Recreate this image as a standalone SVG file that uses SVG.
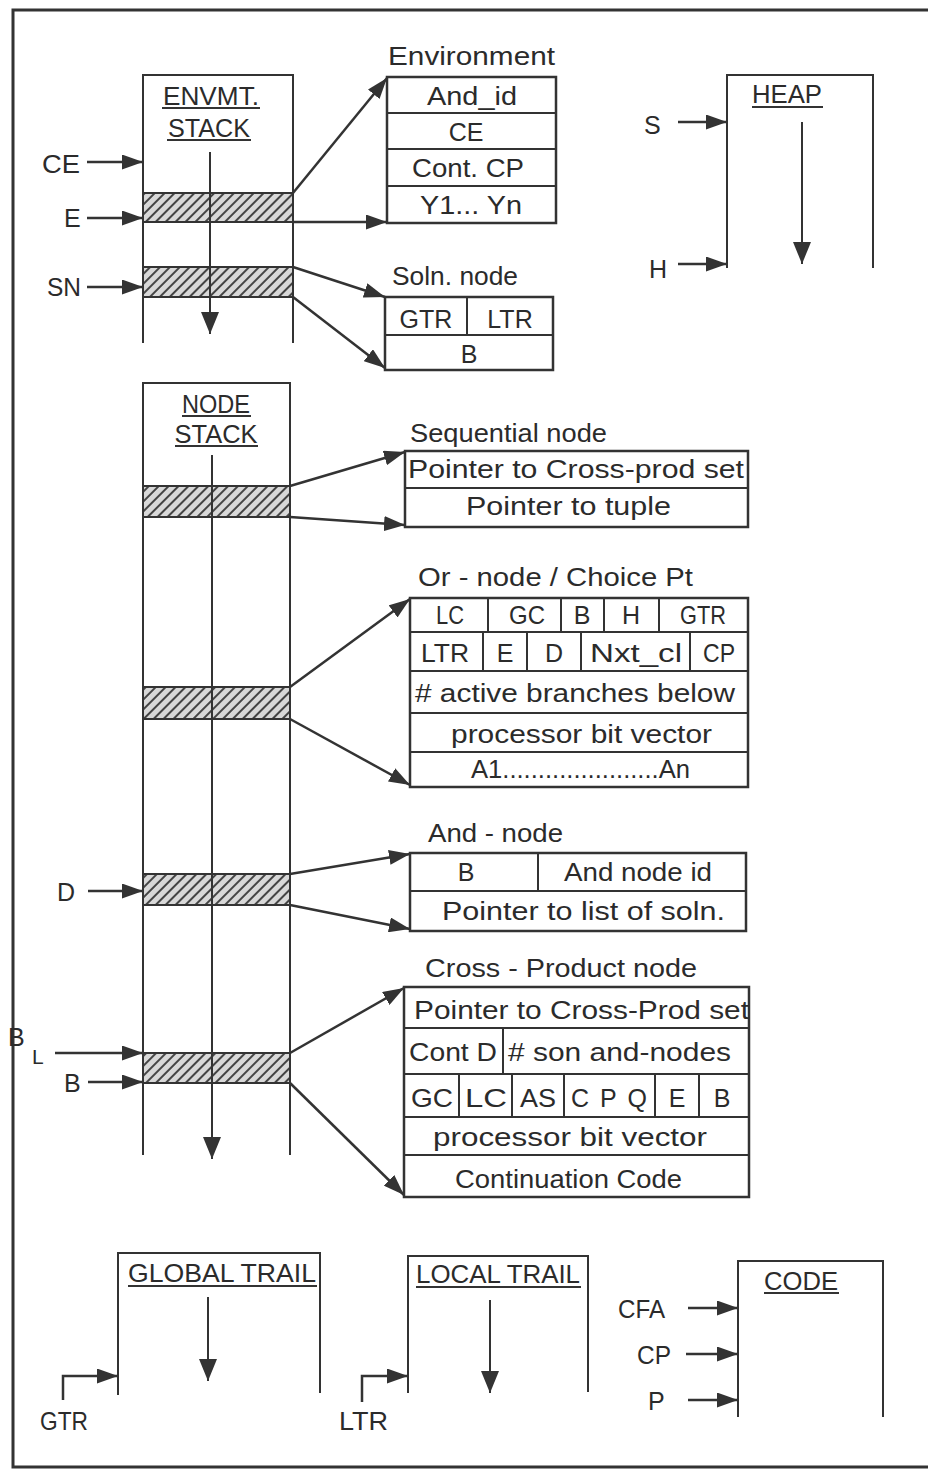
<svg xmlns="http://www.w3.org/2000/svg" width="928" height="1469" viewBox="0 0 928 1469">
<style>
text{font-family:"Liberation Sans",Arial,sans-serif;fill:#2b2b2b;font-size:25px}
.t{font-size:25px}
.c{text-anchor:middle}
.ln{stroke:#333;stroke-width:2;fill:none}
.bx{stroke:#333;stroke-width:2.5;fill:#fff}
.ul{stroke:#333;stroke-width:2}
.hatch{fill:url(#hp);stroke:#333;stroke-width:2}
.ar{stroke:#333;stroke-width:2.5;fill:none;marker-end:url(#ah)}
.dn{stroke:#333;stroke-width:2;fill:none;marker-end:url(#ad)}
</style>
<defs>
<marker id="ah" viewBox="0 0 21 15" refX="21" refY="7.5" markerWidth="21" markerHeight="15" orient="auto" markerUnits="userSpaceOnUse"><path d="M0,0 L21,7.5 L0,15 z" fill="#333"/></marker>
<marker id="ad" viewBox="0 0 22 18" refX="22" refY="9" markerWidth="22" markerHeight="18" orient="auto" markerUnits="userSpaceOnUse"><path d="M0,0 L22,9 L0,18 z" fill="#333"/></marker>
<pattern id="hp" patternUnits="userSpaceOnUse" width="7" height="7" patternTransform="rotate(45)"><rect width="7" height="7" fill="#d8d8d8"/><line x1="1" y1="0" x2="1" y2="7" stroke="#444" stroke-width="2"/></pattern>
</defs>
<rect width="928" height="1469" fill="#fff"/>
<path d="M928,10 H13 V1467 H928" stroke="#333" stroke-width="3" fill="none"/>

<g id="envmt-stack">
<path class="ln" d="M143,343 V75 H293 V343"/>
<text class="t c" x="211" y="105" textLength="96" lengthAdjust="spacingAndGlyphs">ENVMT.</text>
<line class="ul" x1="162" y1="108" x2="260" y2="108"/>
<text class="t c" x="209" y="137" textLength="82" lengthAdjust="spacingAndGlyphs">STACK</text>
<line class="ul" x1="167" y1="140" x2="251" y2="140"/>
<rect class="hatch" x="143" y="193" width="150" height="29"/>
<rect class="hatch" x="143" y="267" width="150" height="30"/>
<line class="dn" x1="210" y1="152" x2="210" y2="334"/>
<text class="t" x="42" y="173" textLength="38" lengthAdjust="spacingAndGlyphs">CE</text>
<text class="t" x="64" y="227">E</text>
<text class="t" x="47" y="296" textLength="34" lengthAdjust="spacingAndGlyphs">SN</text>
</g>

<g id="environment">
<text class="t" x="388" y="65" textLength="167" lengthAdjust="spacingAndGlyphs">Environment</text>
<rect class="bx" x="387" y="77" width="169" height="146"/>
<line class="ln" x1="387" y1="113" x2="556" y2="113"/>
<line class="ln" x1="387" y1="149" x2="556" y2="149"/>
<line class="ln" x1="387" y1="186" x2="556" y2="186"/>
<text class="c" x="472" y="105" textLength="90" lengthAdjust="spacingAndGlyphs">And_id</text>
<text class="c" x="466" y="141">CE</text>
<text class="c" x="468" y="177" textLength="112" lengthAdjust="spacingAndGlyphs">Cont. CP</text>
<text class="c" x="471" y="214" textLength="102" lengthAdjust="spacingAndGlyphs">Y1... Yn</text>
</g>

<g id="soln-node">
<text class="t" x="392" y="285" textLength="126" lengthAdjust="spacingAndGlyphs">Soln. node</text>
<rect class="bx" x="385" y="297" width="168" height="73"/>
<line class="ln" x1="385" y1="335" x2="553" y2="335"/>
<line class="ln" x1="467" y1="297" x2="467" y2="335"/>
<text class="c" x="426" y="328">GTR</text>
<text class="c" x="510" y="328">LTR</text>
<text class="c" x="469" y="363">B</text>
</g>

<g id="heap">
<path class="ln" d="M727,268 V75 H873 V268"/>
<text class="t c" x="787" y="103" textLength="70" lengthAdjust="spacingAndGlyphs">HEAP</text>
<line class="ul" x1="752" y1="107" x2="823" y2="107"/>
<line class="dn" x1="802" y1="122" x2="802" y2="264"/>
<text class="t" x="644" y="134">S</text>
<text class="t" x="649" y="278">H</text>
</g>

<g id="node-stack">
<path class="ln" d="M143,1155 V383 H290 V1155"/>
<text class="t c" x="216" y="413" textLength="68" lengthAdjust="spacingAndGlyphs">NODE</text>
<line class="ul" x1="182" y1="416" x2="251" y2="416"/>
<text class="t c" x="216" y="443" textLength="83" lengthAdjust="spacingAndGlyphs">STACK</text>
<line class="ul" x1="175" y1="446" x2="258" y2="446"/>
<rect class="hatch" x="143" y="486" width="147" height="31"/>
<rect class="hatch" x="143" y="687" width="147" height="32"/>
<rect class="hatch" x="143" y="874" width="147" height="31"/>
<rect class="hatch" x="143" y="1053" width="147" height="30"/>
<line class="dn" x1="212" y1="455" x2="212" y2="1159"/>
<text class="t" x="57" y="901">D</text>
<text class="t" x="8" y="1046">B</text>
<text class="t" x="32" y="1064" style="font-size:21px">L</text>
<text class="t" x="64" y="1092">B</text>
</g>

<g id="sequential-node">
<text class="t" x="410" y="442" textLength="197" lengthAdjust="spacingAndGlyphs">Sequential node</text>
<rect class="bx" x="405" y="451" width="343" height="76"/>
<line class="ln" x1="405" y1="488" x2="748" y2="488"/>
<text x="408" y="478" textLength="336" lengthAdjust="spacingAndGlyphs">Pointer to Cross-prod set</text>
<text x="466" y="515" textLength="205" lengthAdjust="spacingAndGlyphs">Pointer to tuple</text>
</g>

<g id="or-node">
<text class="t" x="418" y="586" textLength="275" lengthAdjust="spacingAndGlyphs">Or - node / Choice Pt</text>
<rect class="bx" x="410" y="598" width="338" height="189"/>
<line class="ln" x1="410" y1="632" x2="748" y2="632"/>
<line class="ln" x1="410" y1="671" x2="748" y2="671"/>
<line class="ln" x1="410" y1="713" x2="748" y2="713"/>
<line class="ln" x1="410" y1="752" x2="748" y2="752"/>
<path class="ln" d="M488,598 V632 M561,598 V632 M604,598 V632 M659,598 V632 M483,632 V671 M527,632 V671 M581,632 V671 M690,632 V671"/>
<text class="c" x="450" y="624" textLength="28" lengthAdjust="spacingAndGlyphs">LC</text>
<text class="c" x="527" y="624" textLength="36" lengthAdjust="spacingAndGlyphs">GC</text>
<text class="c" x="582" y="624">B</text>
<text class="c" x="631" y="624">H</text>
<text class="c" x="703" y="624" textLength="46" lengthAdjust="spacingAndGlyphs">GTR</text>
<text class="c" x="445" y="662" textLength="48" lengthAdjust="spacingAndGlyphs">LTR</text>
<text class="c" x="505" y="662">E</text>
<text class="c" x="554" y="662">D</text>
<text class="c" x="636" y="662" textLength="92" lengthAdjust="spacingAndGlyphs">Nxt_cl</text>
<text class="c" x="719" y="662" textLength="32" lengthAdjust="spacingAndGlyphs">CP</text>
<text x="415" y="702" textLength="320" lengthAdjust="spacingAndGlyphs">#  active branches below</text>
<text x="451" y="743" textLength="261" lengthAdjust="spacingAndGlyphs">processor bit vector</text>
<text x="471" y="778" textLength="219" lengthAdjust="spacingAndGlyphs">A1......................An</text>
</g>

<g id="and-node">
<text class="t" x="428" y="842" textLength="135" lengthAdjust="spacingAndGlyphs">And - node</text>
<rect class="bx" x="410" y="853" width="336" height="78"/>
<line class="ln" x1="410" y1="891" x2="746" y2="891"/>
<line class="ln" x1="538" y1="853" x2="538" y2="891"/>
<text class="c" x="466" y="881">B</text>
<text x="564" y="881" textLength="148" lengthAdjust="spacingAndGlyphs">And node id</text>
<text x="442" y="920" textLength="283" lengthAdjust="spacingAndGlyphs">Pointer to list of soln.</text>
</g>

<g id="cross-product-node">
<text class="t" x="425" y="977" textLength="272" lengthAdjust="spacingAndGlyphs">Cross - Product node</text>
<rect class="bx" x="404" y="987" width="345" height="210"/>
<line class="ln" x1="404" y1="1028" x2="749" y2="1028"/>
<line class="ln" x1="404" y1="1074" x2="749" y2="1074"/>
<line class="ln" x1="404" y1="1117" x2="749" y2="1117"/>
<line class="ln" x1="404" y1="1155" x2="749" y2="1155"/>
<path class="ln" d="M503,1028 V1074 M459,1074 V1117 M512,1074 V1117 M564,1074 V1117 M655,1074 V1117 M699,1074 V1117"/>
<text x="414" y="1019" textLength="335" lengthAdjust="spacingAndGlyphs">Pointer to Cross-Prod set</text>
<text x="409" y="1061" textLength="88" lengthAdjust="spacingAndGlyphs">Cont D</text>
<text x="508" y="1061" textLength="223" lengthAdjust="spacingAndGlyphs">#  son and-nodes</text>
<text class="c" x="432" y="1107" textLength="42" lengthAdjust="spacingAndGlyphs">GC</text>
<text class="c" x="486" y="1107" textLength="42" lengthAdjust="spacingAndGlyphs">LC</text>
<text class="c" x="538" y="1107" textLength="36" lengthAdjust="spacingAndGlyphs">AS</text>
<text class="c" x="609" y="1107" textLength="76" lengthAdjust="spacing">CPQ</text>
<text class="c" x="677" y="1107">E</text>
<text class="c" x="722" y="1107">B</text>
<text x="433" y="1146" textLength="274" lengthAdjust="spacingAndGlyphs">processor bit   vector</text>
<text x="455" y="1188" textLength="227" lengthAdjust="spacingAndGlyphs">Continuation Code</text>
</g>

<g id="global-trail">
<path class="ln" d="M118,1395 V1253 H320 V1393"/>
<text class="t c" x="222" y="1282" textLength="188" lengthAdjust="spacingAndGlyphs">GLOBAL TRAIL</text>
<line class="ul" x1="128" y1="1286" x2="317" y2="1286"/>
<line class="dn" x1="208" y1="1297" x2="208" y2="1381"/>
<text class="t" x="40" y="1430" textLength="48" lengthAdjust="spacingAndGlyphs">GTR</text>
</g>

<g id="local-trail">
<path class="ln" d="M408,1393 V1256 H588 V1392"/>
<text class="t c" x="498" y="1283" textLength="164" lengthAdjust="spacingAndGlyphs">LOCAL TRAIL</text>
<line class="ul" x1="416" y1="1287" x2="581" y2="1287"/>
<line class="dn" x1="490" y1="1300" x2="490" y2="1393"/>
<text class="t" x="339" y="1430" textLength="49" lengthAdjust="spacingAndGlyphs">LTR</text>
</g>

<g id="code">
<path class="ln" d="M738,1417 V1261 H883 V1417"/>
<text class="t c" x="801" y="1290" textLength="74" lengthAdjust="spacingAndGlyphs">CODE</text>
<line class="ul" x1="764" y1="1293" x2="839" y2="1293"/>
<text class="t" x="618" y="1318" textLength="47" lengthAdjust="spacingAndGlyphs">CFA</text>
<text class="t" x="637" y="1364" textLength="34" lengthAdjust="spacingAndGlyphs">CP</text>
<text class="t" x="648" y="1410">P</text>
</g>

<g id="connectors">
<line class="ar" x1="87" y1="162" x2="143" y2="162"/>
<line class="ar" x1="87" y1="218" x2="143" y2="218"/>
<line class="ar" x1="87" y1="287" x2="143" y2="287"/>
<line class="ar" x1="293" y1="193" x2="387" y2="78"/>
<line class="ar" x1="293" y1="222" x2="387" y2="222"/>
<line class="ar" x1="293" y1="267" x2="385" y2="297"/>
<line class="ar" x1="293" y1="297" x2="385" y2="368"/>
<line class="ar" x1="678" y1="122" x2="727" y2="122"/>
<line class="ar" x1="678" y1="264" x2="727" y2="264"/>
<line class="ar" x1="290" y1="486" x2="405" y2="452"/>
<line class="ar" x1="290" y1="517" x2="405" y2="525"/>
<line class="ar" x1="290" y1="687" x2="410" y2="599"/>
<line class="ar" x1="290" y1="719" x2="410" y2="785"/>
<line class="ar" x1="88" y1="891" x2="143" y2="891"/>
<line class="ar" x1="290" y1="874" x2="410" y2="854"/>
<line class="ar" x1="290" y1="905" x2="410" y2="929"/>
<line class="ar" x1="55" y1="1053" x2="143" y2="1053"/>
<line class="ar" x1="88" y1="1082" x2="143" y2="1082"/>
<line class="ar" x1="290" y1="1053" x2="404" y2="988"/>
<line class="ar" x1="290" y1="1083" x2="404" y2="1195"/>
<path class="ar" d="M63,1400 V1376 H118"/>
<path class="ar" d="M362,1402 V1376 H408"/>
<line class="ar" x1="688" y1="1308" x2="738" y2="1308"/>
<line class="ar" x1="686" y1="1354" x2="738" y2="1354"/>
<line class="ar" x1="688" y1="1400" x2="738" y2="1400"/>
</g>
</svg>
